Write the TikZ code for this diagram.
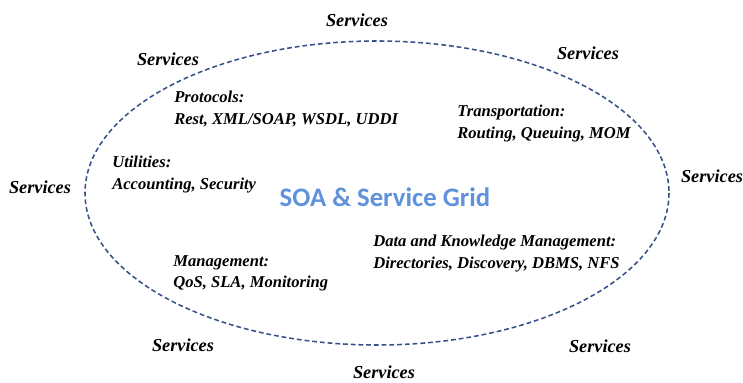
\documentclass[tikz,border=0pt]{standalone}
\usepackage{fontspec}
\setmainfont{Liberation Serif}
\newfontfamily\titlefont{Carlito}
\usetikzlibrary{positioning}
\definecolor{ringblue}{RGB}{55,80,135}
\definecolor{titleblue}{RGB}{95,145,220}

\begin{document}
\begin{tikzpicture}[x=0.025cm,y=-0.025cm,
                    svc/.style={font=\fontsize{13}{15}\selectfont\bfseries\itshape},
                    part/.style={align=left,anchor=north west,inner sep=0pt,
                                 font=\fontsize{11.8}{15.5}\selectfont\bfseries\itshape},
                    ring/.style={draw=ringblue,line width=1.1pt,dash pattern=on 3.4pt off 2.1pt}
                   ]
   \useasboundingbox (0,0) rectangle (743,382);
   % the grid itself
   \draw[ring] (377,193) ellipse [x radius=292,y radius=152];
   \node[font=\titlefont\fontsize{19}{21}\selectfont\bfseries,text=titleblue] (grid) at (385,197) {SOA \& Service Grid};
   % what lives inside
   \node[part] (proto) at (174,91)  {Protocols:\\Rest, XML/SOAP, WSDL, UDDI};
   \node[part] (trans) at (457,105) {Transportation:\\Routing, Queuing, MOM};
   \node[part] (util)  at (112,156) {Utilities:\\Accounting, Security};
   \node[part] (data)  at (373,235) {Data and Knowledge Management:\\Directories, Discovery, DBMS, NFS};
   \node[part] (mgmt)  at (173,255) {Management:\\QoS, SLA, Monitoring};
   % services all around
   \node[svc] (s1) at (357,20)  {Services};
   \node[svc] (s2) at (588,53)  {Services};
   \node[svc] (s3) at (712,176) {Services};
   \node[svc] (s4) at (600,346) {Services};
   \node[svc] (s5) at (384,372) {Services};
   \node[svc] (s6) at (183,345) {Services};
   \node[svc] (s7) at (40,187)  {Services};
   \node[svc] (s8) at (168,59)  {Services};
\end{tikzpicture}
\end{document}
